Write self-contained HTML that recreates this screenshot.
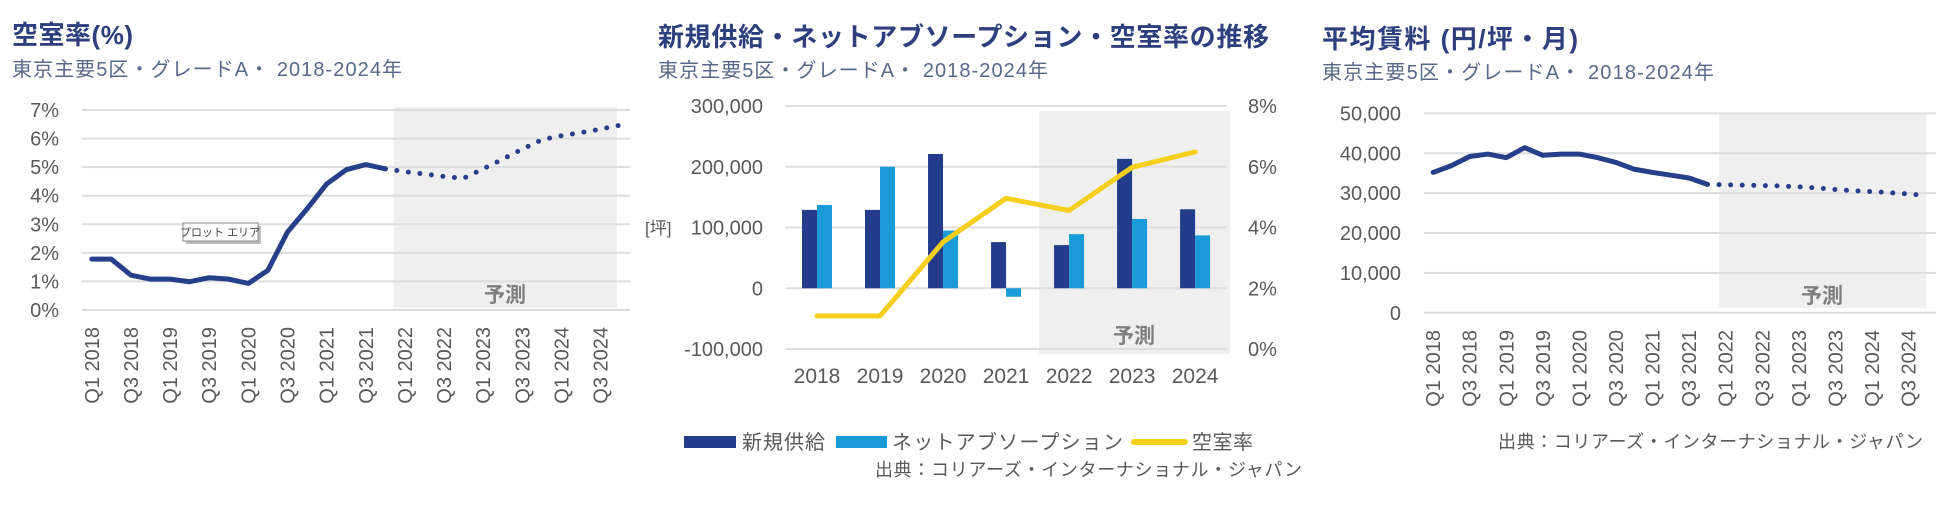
<!DOCTYPE html>
<html><head><meta charset="utf-8"><style>
html,body{margin:0;padding:0;background:#fff;}
svg{display:block;font-family:"Liberation Sans","Noto Sans CJK JP",sans-serif;}
</style></head><body>
<svg id="s" width="1958" height="520" viewBox="0 0 1958 520" xmlns="http://www.w3.org/2000/svg">
<g>
<text x="12" y="44" font-size="26" font-weight="bold" fill="#2d3f7d" textLength="121">空室率(%)</text>
<text x="12" y="76" font-size="20" fill="#58688a" textLength="390">東京主要5区・グレードA・ 2018-2024年</text>
</g>
<g>
<text x="658" y="46" font-size="26" font-weight="bold" fill="#2d3f7d" textLength="611">新規供給・ネットアブソープション・空室率の推移</text>
<text x="658" y="77" font-size="20" fill="#58688a" textLength="390">東京主要5区・グレードA・ 2018-2024年</text>
</g>
<g>
<text x="1322" y="48" font-size="26" font-weight="bold" fill="#2d3f7d" textLength="256">平均賃料 (円/坪・月)</text>
<text x="1322" y="79" font-size="20" fill="#58688a" textLength="392">東京主要5区・グレードA・ 2018-2024年</text>
</g>
<g id="c1"></g>
<g id="c2"></g>
<g id="c3"></g>
</svg>
<script>
const quarters = ["Q1 2018","Q2 2018","Q3 2018","Q4 2018","Q1 2019","Q2 2019","Q3 2019","Q4 2019","Q1 2020","Q2 2020","Q3 2020","Q4 2020","Q1 2021","Q2 2021","Q3 2021","Q4 2021","Q1 2022","Q2 2022","Q3 2022","Q4 2022","Q1 2023","Q2 2023","Q3 2023","Q4 2023","Q1 2024","Q2 2024","Q3 2024","Q4 2024"];
const vacancyQ = [1.78,1.78,1.22,1.08,1.08,0.99,1.13,1.08,0.93,1.39,2.73,3.54,4.41,4.91,5.09,4.94,4.84,4.76,4.67,4.61,4.94,5.28,5.63,5.96,6.10,6.21,6.33,6.47];
const vacancyTicks = ["0%","1%","2%","3%","4%","5%","6%","7%"];
const years = ["2018","2019","2020","2021","2022","2023","2024"];
const newSupply = [129000,129000,221000,76000,71000,213000,130000];
const netAbsorption = [137000,200000,95000,-14000,89000,114000,87000];
const vacancyY = [1.09,1.09,3.52,4.96,4.56,5.98,6.49];
const leftTicks = ["-100,000","0","100,000","200,000","300,000"];
const rightTicks = ["0%","2%","4%","6%","8%"];
const rentQ = [35200,36900,39200,39800,38900,41400,39500,39800,39800,38900,37700,36000,35200,34500,33800,32200,32100,32000,31900,31800,31600,31300,30900,30600,30400,30100,29800,29400];
const rentTicks = ["0","10,000","20,000","30,000","40,000","50,000"];
const forecastStart = 15; // index of last actual quarter

const NS="http://www.w3.org/2000/svg";
function mk(tag, attrs, parent, txt){
  const e=document.createElementNS(NS,tag);
  for(const k in attrs) e.setAttribute(k,attrs[k]);
  if(txt!==undefined) e.textContent=txt;
  parent.appendChild(e); return e;
}
const NAVY="#253f8a", GRID="#dedede", TXT="#595959";

function quarterChart(g, vals, ticks, tickVals, box, shade, fc, labelFn, tooltip){
  const {x0,x1,yTop,yBot,vMin,vMax}=box;
  const y=v=>yBot-(v-vMin)/(vMax-vMin)*(yBot-yTop);
  const bw=(x1-x0)/vals.length;
  const x=i=>x0+bw*(i+0.5);
  let r=mk('rect',{x:shade[0],y:shade[1],width:shade[2]-shade[0],height:shade[3]-shade[1],fill:"#efefef"},g);
  
  
  let t=mk('text',{x:fc[0],y:fc[1],'font-size':21,'font-weight':'bold',fill:'#7f7f7f','text-anchor':'middle'},g,'予測');
  
  
  tickVals.forEach((v,i)=>{
    let l=mk('line',{x1:x0,x2:x1,y1:y(v),y2:y(v),stroke:GRID,'stroke-width':2},g);
    
    
    let tl=mk('text',{x:labelFn.yx,y:y(v)+7,'font-size':20,fill:TXT,'text-anchor':'end'},g,ticks[i]);
    
    
  });
  quarters.forEach((q,i)=>{
    if(i%2) return;
    let tl=mk('text',{x:0,y:0,'font-size':20,fill:TXT,'text-anchor':'end',transform:`translate(${x(i)+7},${labelFn.xy}) rotate(-90)`},g,q);
    
    
  });
  const solid=vals.slice(0,forecastStart+1).map((v,i)=>`${x(i)},${y(v)}`).join(' ');
  const dots=vals.slice(forecastStart).map((v,i)=>`${x(i+forecastStart)},${y(v)}`).join(' ');
  let p=mk('polyline',{points:solid,fill:'none',stroke:NAVY,'stroke-width':5,'stroke-linejoin':'round','stroke-linecap':'round'},g);
  
  
  let d=mk('polyline',{points:dots,fill:'none',stroke:NAVY,'stroke-width':5,'stroke-dasharray':'0 11.6','stroke-linecap':'round'},g);
  
  
}

// Chart 1
const c1=document.getElementById('c1');
quarterChart(c1, vacancyQ, vacancyTicks, [0,1,2,3,4,5,6,7],
  {x0:82,x1:630,yTop:110,yBot:310,vMin:0,vMax:7},[394,107,617,308],[505,302],{yx:59,xy:327});
let tip=mk('g',{},c1);


mk('rect',{x:186,y:226,width:75,height:18,fill:'#bbb'},tip);
mk('rect',{x:183,y:223,width:75,height:18,fill:'#fff',stroke:'#888','stroke-width':1},tip);
mk('text',{x:220,y:236,'font-size':11,fill:'#444','text-anchor':'middle'},tip,'プロット エリア');

// Chart 3
const c3=document.getElementById('c3');
quarterChart(c3, rentQ, rentTicks, [0,10000,20000,30000,40000,50000],
  {x0:1424,x1:1936,yTop:113.4,yBot:312.8,vMin:0,vMax:50000},[1719,113,1926,308],[1822,303],{yx:1401,xy:330});
let s3=mk('text',{x:1498,y:448,'font-size':18,fill:TXT,textLength:425},c3,'出典：コリアーズ・インターナショナル・ジャパン');



// Chart 2
const c2=document.getElementById('c2');
(function(){
  const x0=785.5,x1=1226.6,yTop=106,yBot=349;
  const yL=v=>yBot-(v+100000)/400000*(yBot-yTop);
  const yR=v=>yBot-v/8*(yBot-yTop);
  const cw=(x1-x0)/years.length;
  const cx=i=>x0+cw*(i+0.5);
  let r=mk('rect',{x:1039,y:111,width:191,height:243,fill:'#efefef'},c2);
  
  
  let ft=mk('text',{x:1134,y:343,'font-size':21,'font-weight':'bold',fill:'#7f7f7f','text-anchor':'middle'},c2,'予測');
  
  
  [-100000,0,100000,200000,300000].forEach((v,i)=>{
    let l=mk('line',{x1:x0,x2:x1,y1:yL(v),y2:yL(v),stroke:GRID,'stroke-width':2},c2);
    
    
    let tl=mk('text',{x:763,y:yL(v)+7,'font-size':20,fill:TXT,'text-anchor':'end'},c2,leftTicks[i]);
    
    
  });
  [0,2,4,6,8].forEach((v,i)=>{
    let tl=mk('text',{x:1248,y:yR(v)+7,'font-size':20,fill:TXT},c2,rightTicks[i]);
    
    
  });
  let un=mk('text',{x:645,y:234,'font-size':17,fill:TXT},c2,'[坪]');
  
  
  years.forEach((yr,i)=>{
    let b1=mk('rect',{x:cx(i)-15,y:Math.min(yL(newSupply[i]),yL(0)),width:15,height:Math.abs(yL(0)-yL(newSupply[i])),fill:'#233c8c'},c2);
    
    
    let b2=mk('rect',{x:cx(i),y:Math.min(yL(netAbsorption[i]),yL(0)),width:15,height:Math.abs(yL(0)-yL(netAbsorption[i])),fill:'#1a9ad6'},c2);
    
    
    let tl=mk('text',{x:cx(i),y:383,'font-size':21,fill:TXT,'text-anchor':'middle'},c2,yr);
    
    
  });
  let ln=mk('polyline',{points:vacancyY.map((v,i)=>`${cx(i)},${yR(v)}`).join(' '),fill:'none',stroke:'#f5cf1c','stroke-width':5,'stroke-linejoin':'round','stroke-linecap':'round'},c2);
  
  
  const lg=mk('g',{},c2);
  
  
  let e1=mk('g',{},lg);
  
  
  mk('rect',{x:684,y:436,width:52,height:12,fill:'#233c8c'},e1);
  mk('text',{x:742,y:449,'font-size':20,fill:TXT,textLength:83},e1,'新規供給');
  let e2=mk('g',{},lg);
  
  
  mk('rect',{x:836,y:436,width:51,height:12,fill:'#1a9ad6'},e2);
  mk('text',{x:892,y:449,'font-size':20,fill:TXT,textLength:231},e2,'ネットアブソープション');
  let e3=mk('g',{},lg);
  
  
  mk('line',{x1:1134,x2:1185,y1:442,y2:442,stroke:'#f5cf1c','stroke-width':6,'stroke-linecap':'round'},e3);
  mk('text',{x:1192,y:449,'font-size':20,fill:TXT,textLength:61},e3,'空室率');
  let s2=mk('text',{x:875,y:476,'font-size':18,fill:TXT,textLength:427},c2,'出典：コリアーズ・インターナショナル・ジャパン');
  
  
})();
</script>
</body></html>
